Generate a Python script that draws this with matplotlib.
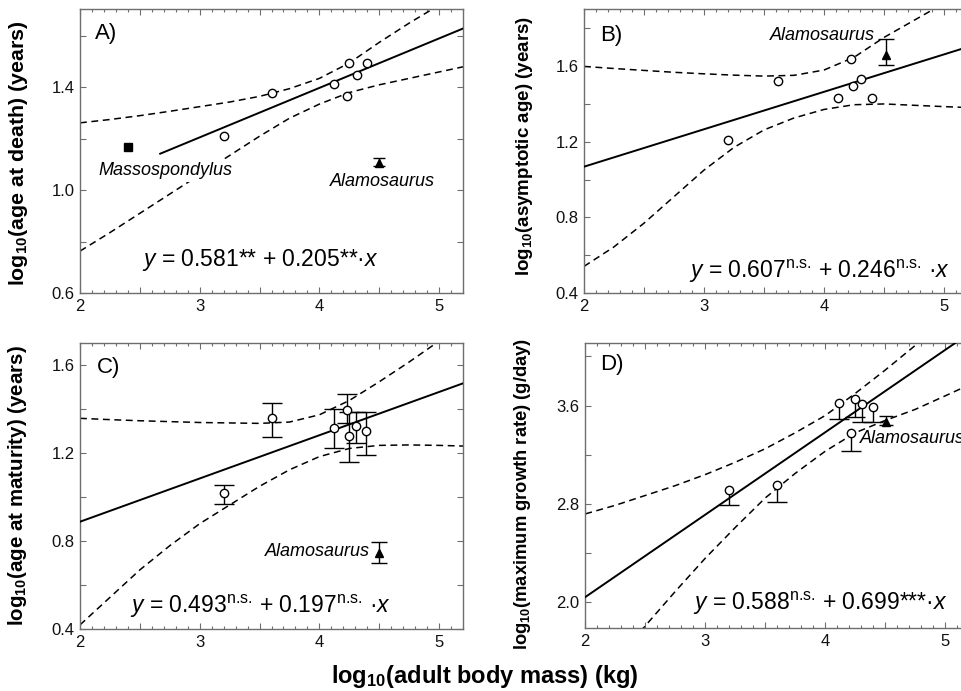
import matplotlib
matplotlib.use('Agg')
import matplotlib.pyplot as plt
from matplotlib.ticker import MultipleLocator, FixedLocator, FixedFormatter

plt.rcParams['font.family'] = ['Liberation Sans', 'DejaVu Sans']
plt.rcParams['mathtext.fontset'] = 'custom'
plt.rcParams['mathtext.rm'] = 'Liberation Sans'
plt.rcParams['mathtext.it'] = 'Liberation Sans:italic'
plt.rcParams['mathtext.bf'] = 'Liberation Sans:bold'

# ---------------- data ----------------
band_x = [2.0, 2.25, 2.5, 2.75, 3.0, 3.25, 3.5, 3.75, 4.0, 4.25, 4.5, 4.75, 5.0, 5.2]
x_ticks_major = [2.0, 2.5, 3.0, 3.5, 4.0, 4.5, 5.0]
x_tick_labels = ['2', '', '3', '', '4', '', '5']

# Panel A: age at death
a_x = [3.2, 3.6, 4.12, 4.228, 4.244, 4.314, 4.397]
a_y = [1.209, 1.38, 1.414, 1.365, 1.493, 1.45, 1.493]
a_masso_x = [2.4]
a_masso_y = [1.17]
a_alamo_x = [4.5]
a_alamo_y = [1.104]
a_alamo_lo = [1.096]
a_alamo_hi = [1.127]
a_line_x = [2.67, 5.2]
a_line_y = [1.142, 1.629]
a_upper = [1.262, 1.275, 1.29, 1.307, 1.325, 1.343, 1.365, 1.395, 1.435, 1.495, 1.575, 1.65, 1.72, 1.78]
a_lower = [0.763, 0.835, 0.91, 0.985, 1.06, 1.135, 1.21, 1.28, 1.335, 1.38, 1.41, 1.435, 1.46, 1.48]
a_yticks = [0.6, 0.8, 1.0, 1.2, 1.4, 1.6]
a_ylabels = ['0.6', '', '1.0', '', '1.4', '']

# Panel B: asymptotic age
b_x = [3.2, 3.62, 4.12, 4.225, 4.244, 4.311, 4.397]
b_y = [1.207, 1.519, 1.432, 1.635, 1.493, 1.533, 1.432]
b_alamo_x = [4.52]
b_alamo_y = [1.658]
b_alamo_lo = [1.602]
b_alamo_hi = [1.741]
b_line_x = [2.0, 5.2]
b_line_y = [1.068, 1.70]
b_upper = [1.597, 1.586, 1.576, 1.566, 1.558, 1.551, 1.546, 1.55, 1.578, 1.645, 1.75, 1.84, 1.93, 2.0]
b_lower = [0.542, 0.645, 0.77, 0.91, 1.05, 1.17, 1.262, 1.325, 1.37, 1.395, 1.399, 1.392, 1.385, 1.38]
b_yticks = [0.4, 0.6, 0.8, 1.0, 1.2, 1.4, 1.6, 1.8]
b_ylabels = ['0.4', '', '0.8', '', '1.2', '', '1.6', '']

# Panel C: age at maturity
c_x = [3.2, 3.6, 4.12, 4.23, 4.245, 4.31, 4.39]
c_y = [1.018, 1.359, 1.316, 1.397, 1.279, 1.325, 1.302]
c_lo = [0.968, 1.275, 1.225, 1.336, 1.159, 1.248, 1.192]
c_hi = [1.056, 1.43, 1.40, 1.47, 1.39, 1.389, 1.389]
c_alamo_x = [4.5]
c_alamo_y = [0.745]
c_alamo_lo = [0.703]
c_alamo_hi = [0.795]
c_line_x = [2.0, 5.2]
c_line_y = [0.889, 1.518]
c_upper = [1.359, 1.353, 1.348, 1.344, 1.34, 1.338, 1.336, 1.342, 1.375, 1.44, 1.525, 1.615, 1.71, 1.79]
c_lower = [0.42, 0.545, 0.67, 0.78, 0.88, 0.965, 1.05, 1.125, 1.185, 1.222, 1.236, 1.238, 1.236, 1.233]
c_yticks = [0.4, 0.6, 0.8, 1.0, 1.2, 1.4, 1.6]
c_ylabels = ['0.4', '', '0.8', '', '1.2', '', '1.6']

# Panel D: maximum growth rate
d_x = [3.2, 3.6, 4.117, 4.214, 4.248, 4.31, 4.395]
d_y = [2.914, 2.957, 3.62, 3.38, 3.652, 3.61, 3.59]
d_lo = [2.79, 2.82, 3.49, 3.234, 3.505, 3.464, 3.465]
d_alamo_x = [4.51]
d_alamo_y = [3.465]
d_alamo_lo = [3.443]
d_alamo_hi = [3.516]
d_line_x = [2.0, 5.2]
d_line_y = [2.044, 4.188]
d_upper = [2.72, 2.79, 2.87, 2.95, 3.04, 3.14, 3.25, 3.38, 3.52, 3.70, 3.89, 4.09, 4.30, 4.47]
d_lower = [1.25, 1.53, 1.81, 2.09, 2.36, 2.61, 2.85, 3.05, 3.23, 3.38, 3.48, 3.57, 3.68, 3.77]
d_yticks = [2.0, 2.4, 2.8, 3.2, 3.6, 4.0]
d_ylabels = ['2.0', '', '2.8', '', '3.6', '']

# ---------------- figure ----------------
W, H = 962, 691
fig = plt.figure(figsize=(W / 100, H / 100), dpi=100)
fig.patch.set_facecolor('white')

def px_axes(l, r, t, b):
    return fig.add_axes([l / W, 1 - b / H, (r - l) / W, (b - t) / H])

axA = px_axes(80, 463, 9, 293)
axB = px_axes(584, 968, 9, 293.3)
axC = px_axes(80, 463, 343.3, 629.3)
axD = px_axes(585.3, 969.3, 343.3, 628.3)

SPINE = '#6e6e6e'
TICKFS = 12

def style(ax, ylim, yt, ylab):
    ax.set_xlim(2.0, 5.2)
    ax.set_ylim(*ylim)
    ax.xaxis.set_major_locator(FixedLocator(x_ticks_major))
    ax.xaxis.set_major_formatter(FixedFormatter(x_tick_labels))
    ax.xaxis.set_minor_locator(MultipleLocator(0.1))
    ax.yaxis.set_major_locator(FixedLocator(yt))
    ax.yaxis.set_major_formatter(FixedFormatter(ylab))
    ax.tick_params(which='both', direction='in', top=True, right=True,
                   color=SPINE, width=0.8, labelsize=TICKFS, labelcolor='#111111')
    ax.tick_params(which='major', length=4, pad=4)
    ax.tick_params(which='minor', length=2)
    for s in ax.spines.values():
        s.set_color(SPINE)
        s.set_linewidth(1.0)

circ = dict(marker='o', ms=6, mfc='white', mec='black', mew=1.0, ls='none', zorder=5)
tri = dict(marker='^', ms=6, mfc='black', mec='black', ls='none', zorder=5)
DASH = (0, (4.5, 3.0))

def bands(ax, up, lo):
    ax.plot(band_x, up, ls=DASH, color='black', lw=1.1, zorder=2)
    ax.plot(band_x, lo, ls=DASH, color='black', lw=1.1, zorder=2)

def alamo(ax, x, y, lo, hi, cap):
    yerr = [[y[0] - lo[0]], [hi[0] - y[0]]]
    ax.errorbar(x, y, yerr=yerr, fmt='none', ecolor='black', elinewidth=1.0,
                capsize=cap, capthick=1.0, zorder=4)
    ax.plot(x, y, **tri)

NS = r'$^{\text{n.s.}}$'
eqfs = 16.5
labfs = 16
spfs = 13

# Panel A
style(axA, (0.6, 1.705), a_yticks, a_ylabels)
bands(axA, a_upper, a_lower)
axA.plot(a_line_x, a_line_y, color='black', lw=1.4, zorder=3)
axA.plot(a_x, a_y, **circ)
axA.plot(a_masso_x, a_masso_y, marker='s', ms=6.2, mfc='black', mec='black', ls='none', zorder=5)
alamo(axA, a_alamo_x, a_alamo_y, a_alamo_lo, a_alamo_hi, 4)
axA.text(0.222, 0.43, 'Massospondylus', style='italic', fontsize=spfs, ha='center', va='center',
         transform=axA.transAxes, zorder=6,
         bbox=dict(facecolor='white', edgecolor='none', pad=2))
axA.text(0.789, 0.394, 'Alamosaurus', style='italic', fontsize=spfs, ha='center', va='center',
         transform=axA.transAxes)
axA.text(0.04, 0.915, 'A)', fontsize=labfs, ha='left', va='center', transform=axA.transAxes)
axA.text(0.47, 0.116, r'$\mathit{y}$ = 0.581** + 0.205**·$\mathit{x}$', fontsize=eqfs,
         ha='center', va='center', transform=axA.transAxes)

# Panel B
style(axB, (0.4, 1.9), b_yticks, b_ylabels)
bands(axB, b_upper, b_lower)
axB.plot(b_line_x, b_line_y, color='black', lw=1.4, zorder=3)
axB.plot(b_x, b_y, **circ)
alamo(axB, b_alamo_x, b_alamo_y, b_alamo_lo, b_alamo_hi, 6)
axB.text(0.62, 0.908, 'Alamosaurus', style='italic', fontsize=spfs, ha='center', va='center',
         transform=axB.transAxes)
axB.text(0.042, 0.908, 'B)', fontsize=labfs, ha='left', va='center', transform=axB.transAxes)
axB.text(0.612, 0.076, r'$\mathit{y}$ = 0.607' + NS + ' + 0.246' + NS + r' ·$\mathit{x}$',
         fontsize=eqfs, ha='center', va='center', transform=axB.transAxes)

# Panel C
style(axC, (0.4, 1.7), c_yticks, c_ylabels)
bands(axC, c_upper, c_lower)
axC.plot(c_line_x, c_line_y, color='black', lw=1.4, zorder=3)
c_err = [[y - l for y, l in zip(c_y, c_lo)], [h - y for y, h in zip(c_y, c_hi)]]
axC.errorbar(c_x, c_y, yerr=c_err, fmt='none', ecolor='black', elinewidth=1.0,
             capsize=7.5, capthick=1.0, zorder=4)
axC.plot(c_x, c_y, **circ)
alamo(axC, c_alamo_x, c_alamo_y, c_alamo_lo, c_alamo_hi, 6)
axC.text(0.62, 0.271, 'Alamosaurus', style='italic', fontsize=spfs, ha='center', va='center',
         transform=axC.transAxes)
axC.text(0.044, 0.917, 'C)', fontsize=labfs, ha='left', va='center', transform=axC.transAxes)
axC.text(0.47, 0.079, r'$\mathit{y}$ = 0.493' + NS + ' + 0.197' + NS + r' ·$\mathit{x}$',
         fontsize=eqfs, ha='center', va='center', transform=axC.transAxes)

# Panel D
style(axD, (1.79, 4.107), d_yticks, d_ylabels)
bands(axD, d_upper, d_lower)
axD.plot(d_line_x, d_line_y, color='black', lw=1.4, zorder=3)
d_err = [[y - l for y, l in zip(d_y, d_lo)], [0.0] * len(d_y)]
axD.errorbar(d_x, d_y, yerr=d_err, fmt='none', ecolor='black', elinewidth=1.0, capsize=0, zorder=4)
axD.plot(d_x, d_lo, marker='_', ms=15, mew=1.0, color='black', ls='none', zorder=4)
axD.plot(d_x, d_y, **circ)
alamo(axD, d_alamo_x, d_alamo_y, d_alamo_lo, d_alamo_hi, 5)
axD.text(0.715, 0.667, 'Alamosaurus', style='italic', fontsize=spfs, ha='left', va='center',
         transform=axD.transAxes)
axD.text(0.038, 0.924, 'D)', fontsize=labfs, ha='left', va='center', transform=axD.transAxes)
axD.text(0.612, 0.088, r'$\mathit{y}$ = 0.588' + NS + r' + 0.699***·$\mathit{x}$',
         fontsize=eqfs, ha='center', va='center', transform=axD.transAxes)

# axis labels
def ylab(xpx, ypx, txt, fs):
    fig.text(xpx / W, 1 - ypx / H, txt, rotation=90, ha='center', va='center',
             fontsize=fs, fontweight='bold')

ylab(19, 153, r'log$_{\mathbf{10}}$(age at death) (years)', 15.4)
ylab(525, 146, r'log$_{\mathbf{10}}$(asymptotic age) (years)', 13.5)
ylab(18, 486, r'log$_{\mathbf{10}}$(age at maturity) (years)', 14.8)
ylab(523, 494, r'log$_{\mathbf{10}}$(maximum growth rate) (g/day)', 13.2)

fig.text(485 / W, 8 / H, r'log$_{\mathbf{10}}$(adult body mass) (kg)', ha='center', va='baseline',
         fontsize=17, fontweight='bold')

fig.savefig('out.png', dpi=100, facecolor='white')
